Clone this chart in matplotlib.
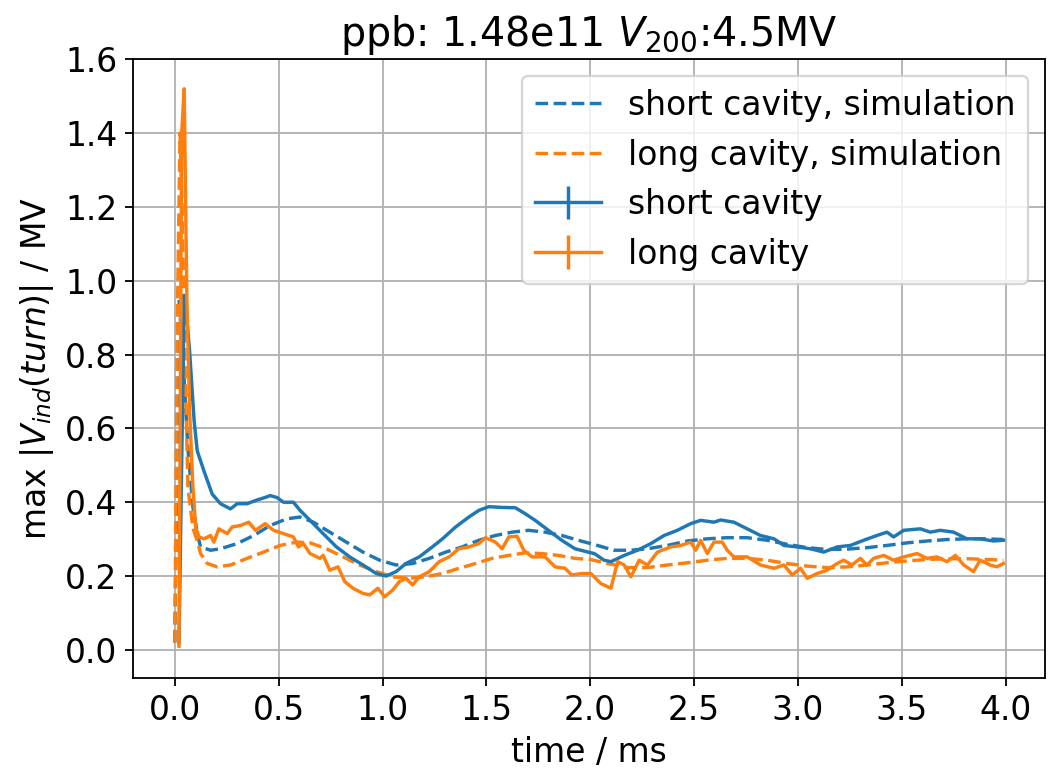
import numpy as np
import matplotlib
matplotlib.use('Agg')
import matplotlib.pyplot as plt

# simulated induced voltage, short / long cavity
t_short_sim = [0.0, 0.02, 0.04, 0.063, 0.087, 0.11, 0.124, 0.172, 0.22, 0.3, 0.38, 0.459, 0.539,
               0.603, 0.667, 0.746, 0.826, 0.906, 0.986, 1.065, 1.145, 1.225, 1.305, 1.384, 1.464,
               1.544, 1.624, 1.703, 1.783, 1.863, 1.943, 2.035, 2.115, 2.196, 2.276, 2.372, 2.468,
               2.564, 2.66, 2.756, 2.853, 2.949, 3.045, 3.141, 3.237, 3.333, 3.429, 3.526, 3.622,
               3.718, 3.814, 3.91, 3.99]
v_short_sim = [0.02, 0.95, 0.78, 0.544, 0.387, 0.31, 0.279, 0.27, 0.274, 0.288, 0.31, 0.337, 0.355,
               0.36, 0.346, 0.319, 0.292, 0.265, 0.243, 0.23, 0.234, 0.248, 0.265, 0.279, 0.297,
               0.31, 0.319, 0.324, 0.319, 0.31, 0.297, 0.283, 0.27, 0.27, 0.274, 0.283, 0.295,
               0.301, 0.304, 0.304, 0.297, 0.286, 0.277, 0.272, 0.273, 0.277, 0.283, 0.29, 0.295,
               0.299, 0.301, 0.301, 0.299]

t_long_sim = [0.0, 0.012, 0.025, 0.035, 0.05, 0.063, 0.087, 0.111, 0.124, 0.156, 0.204, 0.268, 0.348,
              0.427, 0.507, 0.587, 0.651, 0.73, 0.81, 0.89, 0.97, 1.049, 1.129, 1.209, 1.289, 1.368,
              1.448, 1.528, 1.608, 1.687, 1.767, 1.847, 1.927, 2.0, 2.084, 2.18, 2.276, 2.372, 2.468,
              2.564, 2.66, 2.756, 2.853, 2.949, 3.045, 3.141, 3.237, 3.333, 3.429, 3.526, 3.622,
              3.718, 3.814, 3.91, 3.99]
v_long_sim = [0.02, 0.9, 1.40, 1.2, 0.75, 0.44, 0.33, 0.29, 0.261, 0.234, 0.225, 0.23, 0.248,
              0.265, 0.283, 0.292, 0.29, 0.274, 0.252, 0.23, 0.212, 0.198, 0.194, 0.198, 0.207, 0.221,
              0.234, 0.248, 0.256, 0.263, 0.261, 0.256, 0.248, 0.245, 0.234, 0.223, 0.223, 0.23, 0.236,
              0.243, 0.248, 0.248, 0.243, 0.234, 0.227, 0.223, 0.225, 0.23, 0.236, 0.241, 0.245,
              0.247, 0.247, 0.245, 0.243]

# measured
t_short = [0.02, 0.045, 0.056, 0.071, 0.093, 0.108, 0.14, 0.18, 0.22, 0.268, 0.30, 0.348, 0.395,
           0.435, 0.459, 0.491, 0.523, 0.571, 0.603, 0.651, 0.714, 0.778, 0.842, 0.906, 0.97, 1.017,
           1.065, 1.113, 1.177, 1.24, 1.289, 1.352, 1.416, 1.464, 1.512, 1.576, 1.64, 1.687, 1.735,
           1.799, 1.863, 1.927, 1.99, 2.02, 2.067, 2.10, 2.164, 2.228, 2.292, 2.356, 2.42, 2.484,
           2.532, 2.596, 2.628, 2.692, 2.756, 2.82, 2.885, 2.933, 2.997, 3.06, 3.125, 3.189, 3.253,
           3.317, 3.381, 3.429, 3.461, 3.51, 3.59, 3.638, 3.686, 3.75, 3.814, 3.878, 3.942, 3.99]
v_short = [0.02, 0.96, 0.91, 0.81, 0.62, 0.539, 0.485, 0.422, 0.396, 0.382, 0.396, 0.396, 0.406,
           0.413, 0.418, 0.413, 0.40, 0.40, 0.378, 0.351, 0.315, 0.279, 0.252, 0.23, 0.207, 0.20,
           0.212, 0.234, 0.252, 0.279, 0.301, 0.333, 0.36, 0.378, 0.388, 0.386, 0.385, 0.369, 0.351,
           0.324, 0.297, 0.274, 0.265, 0.261, 0.243, 0.239, 0.256, 0.27, 0.288, 0.31, 0.324, 0.342,
           0.351, 0.346, 0.352, 0.346, 0.328, 0.31, 0.301, 0.283, 0.279, 0.274, 0.265, 0.279, 0.283,
           0.297, 0.31, 0.319, 0.306, 0.324, 0.328, 0.319, 0.324, 0.319, 0.301, 0.301, 0.295, 0.297]

t_long = [0.02, 0.033, 0.045, 0.058, 0.071, 0.087, 0.093, 0.10, 0.116, 0.14, 0.172, 0.188, 0.212,
          0.252, 0.276, 0.316, 0.356, 0.388, 0.435, 0.475, 0.523, 0.571, 0.595, 0.619, 0.651, 0.699,
          0.714, 0.746, 0.786, 0.818, 0.858, 0.906, 0.938, 0.978, 1.01, 1.049, 1.081, 1.113, 1.145,
          1.177, 1.225, 1.273, 1.321, 1.368, 1.416, 1.464, 1.496, 1.544, 1.576, 1.608, 1.648, 1.68,
          1.72, 1.783, 1.831, 1.879, 1.911, 1.959, 2.003, 2.051, 2.10, 2.132, 2.164, 2.196, 2.236,
          2.276, 2.324, 2.388, 2.436, 2.484, 2.508, 2.532, 2.564, 2.596, 2.636, 2.66, 2.692, 2.756,
          2.82, 2.885, 2.933, 2.973, 3.013, 3.045, 3.093, 3.141, 3.189, 3.221, 3.261, 3.301, 3.333,
          3.365, 3.413, 3.461, 3.51, 3.574, 3.622, 3.67, 3.718, 3.759, 3.799, 3.846, 3.878, 3.926,
          3.958, 3.99]
v_long = [0.01, 1.40, 1.52, 0.95, 0.65, 0.44, 0.396, 0.333, 0.306, 0.301, 0.31, 0.292, 0.328,
          0.315, 0.333, 0.337, 0.346, 0.324, 0.342, 0.324, 0.315, 0.306, 0.279, 0.288, 0.261, 0.248,
          0.256, 0.216, 0.225, 0.185, 0.167, 0.153, 0.149, 0.167, 0.144, 0.162, 0.185, 0.194, 0.176,
          0.198, 0.212, 0.239, 0.252, 0.274, 0.279, 0.288, 0.304, 0.292, 0.274, 0.306, 0.308, 0.27,
          0.252, 0.252, 0.225, 0.221, 0.203, 0.207, 0.207, 0.18, 0.167, 0.239, 0.23, 0.198, 0.243,
          0.23, 0.265, 0.279, 0.283, 0.292, 0.27, 0.297, 0.261, 0.292, 0.292, 0.27, 0.252, 0.252,
          0.23, 0.221, 0.23, 0.203, 0.221, 0.194, 0.207, 0.216, 0.234, 0.243, 0.23, 0.248, 0.23,
          0.248, 0.256, 0.243, 0.252, 0.261, 0.248, 0.252, 0.239, 0.256, 0.23, 0.212, 0.243, 0.23,
          0.225, 0.234]

plt.rcParams['font.size'] = 14.5

fig = plt.figure(figsize=(1048 / 164, 771 / 164), dpi=164)
ax = fig.add_axes([0.1272, 0.1202, 0.8699, 0.8029])

ax.plot(t_short_sim, v_short_sim, '--', color='C0', label='short cavity, simulation')
ax.plot(t_long_sim, v_long_sim, '--', color='C1', label='long cavity, simulation')
ax.errorbar(t_short, v_short, yerr=0.0, color='C0', label='short cavity')
ax.errorbar(t_long, v_long, yerr=0.0, color='C1', label='long cavity')

ax.set_xlim(-0.2, 4.19)
ax.set_ylim(-0.077, 1.6)
ax.set_xlabel('time / ms')
ax.set_ylabel(r'max $|V_{ind}(turn)|$ / MV')
ax.set_title(r'ppb: 1.48e11 $V_{200}$:4.5MV')
ax.grid(True)
ax.legend(loc='upper right')

fig.savefig('out.png', dpi=164)
